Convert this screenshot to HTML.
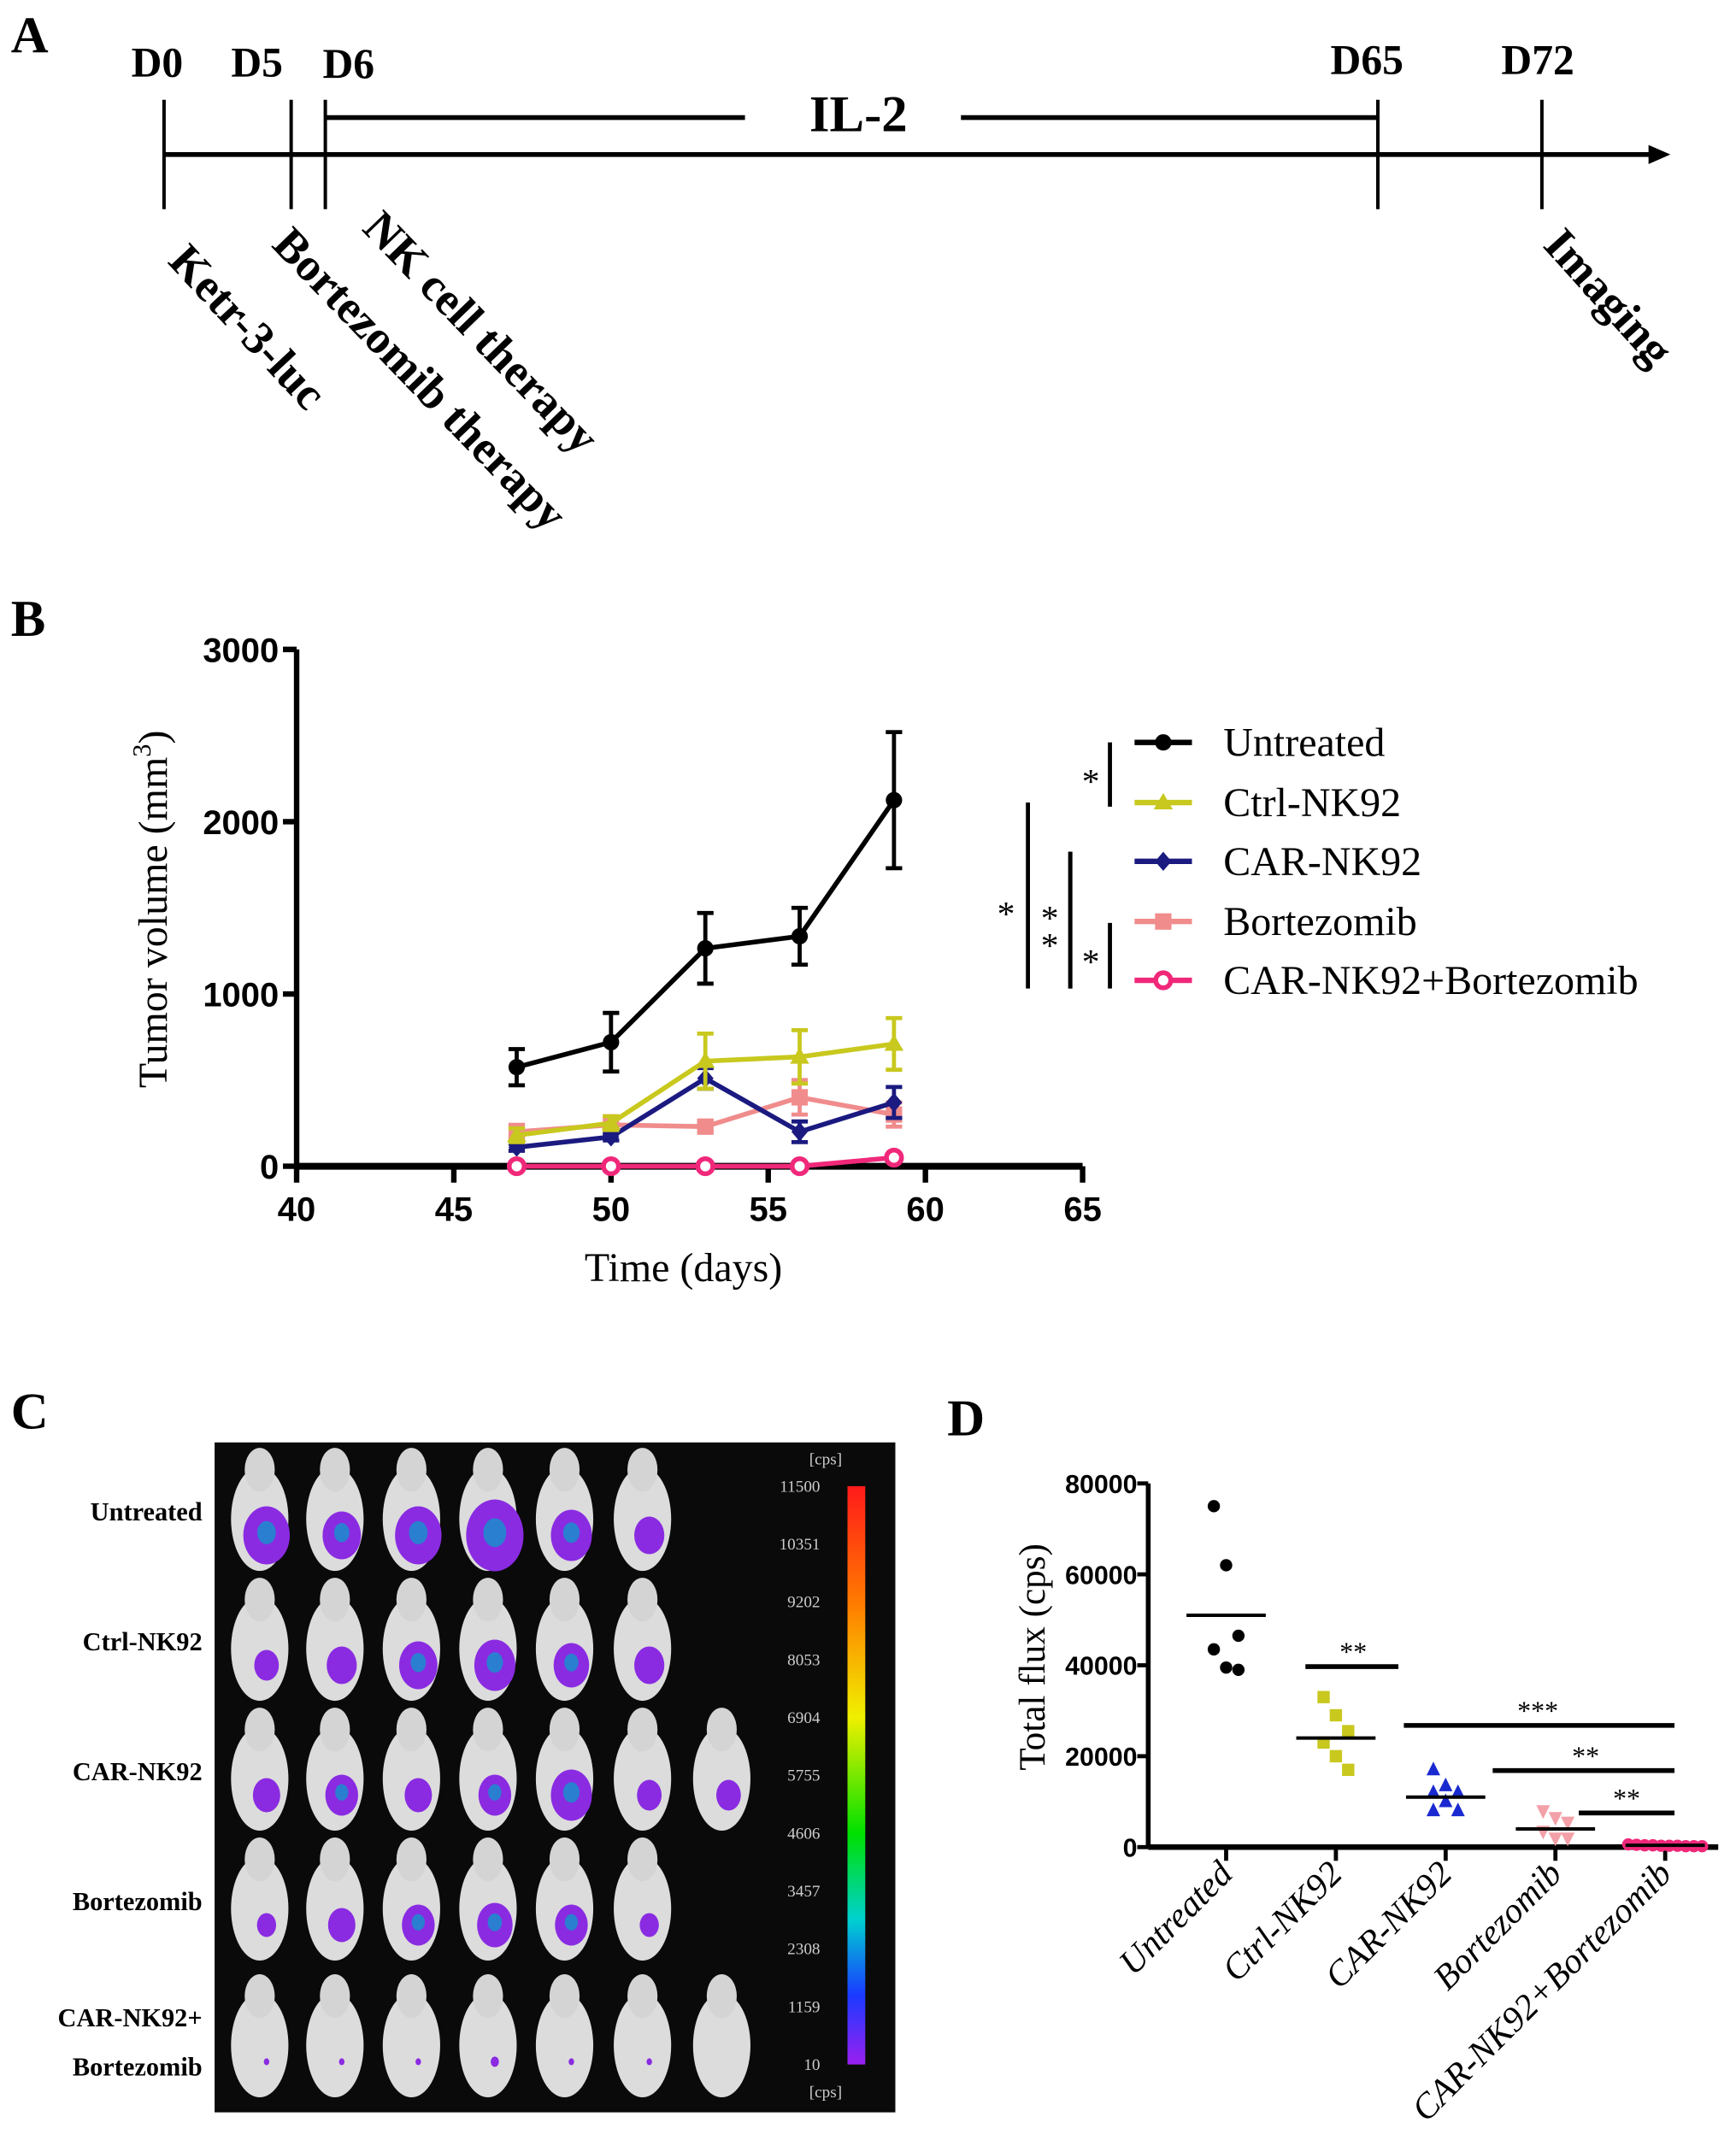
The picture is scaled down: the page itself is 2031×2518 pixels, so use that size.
<!DOCTYPE html>
<html><head><meta charset="utf-8"><style>
html,body{margin:0;padding:0;background:#fff}
svg{display:block}
.ser{font-family:"Liberation Serif",serif}
.san{font-family:"Liberation Sans",sans-serif}
</style></head><body>
<svg id="fig" width="2031" height="2518" viewBox="0 0 1270 1574" preserveAspectRatio="none" xmlns="http://www.w3.org/2000/svg">
<rect width="1270" height="1574" fill="#fff"/>
<!-- Panel A -->
<g class="ser" font-weight="bold">
<text x="8" y="38" font-size="38">A</text>
<line x1="120" y1="113" x2="1212" y2="113" stroke="#000" stroke-width="3.5"/>
<polygon points="1222,113 1206,106 1206,120" fill="#000"/>
<g stroke="#000" stroke-width="2.5">
<line x1="120" y1="73" x2="120" y2="153"/><line x1="213" y1="73" x2="213" y2="153"/><line x1="238" y1="73" x2="238" y2="153"/><line x1="1008" y1="73" x2="1008" y2="153"/><line x1="1128" y1="73" x2="1128" y2="153"/>
</g>
<line x1="238" y1="86" x2="545" y2="86" stroke="#000" stroke-width="3.5"/>
<line x1="703" y1="86" x2="1008" y2="86" stroke="#000" stroke-width="3.5"/>
<text x="628" y="96" font-size="38" text-anchor="middle">IL-2</text>
<g font-size="31" text-anchor="middle">
<text x="115" y="56">D0</text><text x="188" y="56">D5</text><text x="255" y="57">D6</text><text x="1000" y="54">D65</text><text x="1125" y="54">D72</text>
</g>
<g font-size="34" font-weight="bold">
<text transform="translate(122,192) rotate(47)">Ketr-3-luc</text>
<text transform="translate(198,180) rotate(46)">Bortezomib therapy</text>
<text transform="translate(264,168) rotate(46)">NK cell therapy</text>
<text transform="translate(1128,180) rotate(48)">Imaging</text>
</g>
</g>
<!-- Panel B -->
<g id="panelB">
<text x="8" y="465" font-size="38" font-weight="bold" class="ser">B</text>
</g>
<!-- Panel C -->
<g id="panelC">
<text x="8" y="1045" font-size="38" font-weight="bold" class="ser">C</text>
<rect x="157" y="1055" width="498" height="490" fill="#0a0a0a"/>
</g>
<!-- Panel D -->
<g id="panelD">
<text x="693" y="1050" font-size="38" font-weight="bold" class="ser">D</text>
</g>
</svg>
<script>
const NS="http://www.w3.org/2000/svg";
function mk(p,t,a){const e=document.createElementNS(NS,t);for(const k in a)e.setAttribute(k,a[k]);p.appendChild(e);return e;}

// ---------- Panel B data ----------
const days=[47,50,53,56,59];
const untreated=[575,720,1265,1335,2125];
const untreatedErr=[105,170,205,165,395];
const ctrl=[180,250,610,635,710];
const ctrlErr=[40,40,160,155,150];
const carnk=[110,170,510,200,370];
const carnkErr=[20,20,60,60,90];
const bort=[200,240,230,400,300];
const bortErr=[40,50,30,100,70];
const combo=[0,0,0,0,50];
const comboErr=[0,0,0,0,10];
const xTicksB=[40,45,50,55,60,65];
const yTicksB=[0,1000,2000,3000];
const seriesNames=["Untreated","Ctrl-NK92","CAR-NK92","Bortezomib","CAR-NK92+Bortezomib"];

const B=document.getElementById('panelB');
const bx=d=>217+(d-40)*23;
const by=v=>853-v*0.126;
let e;
e=mk(B,'line',{x1:217,y1:475,x2:217,y2:853,stroke:'#000','stroke-width':4});


e=mk(B,'line',{x1:217,y1:853,x2:792,y2:853,stroke:'#000','stroke-width':5});


yTicksB.forEach(v=>{mk(B,'line',{x1:207,y1:by(v),x2:217,y2:by(v),stroke:'#000','stroke-width':4});
 e=mk(B,'text',{x:204,y:by(v)+9,'font-size':25,'font-weight':'bold','text-anchor':'end',class:'san'});e.textContent=v;
 
 });
xTicksB.forEach(v=>{mk(B,'line',{x1:bx(v),y1:853,x2:bx(v),y2:865,stroke:'#000','stroke-width':4});
 e=mk(B,'text',{x:bx(v),y:893,'font-size':25,'font-weight':'bold','text-anchor':'middle',class:'san'});e.textContent=v;
 
 });
e=mk(B,'text',{x:500,y:937,'font-size':30,'text-anchor':'middle',class:'ser'});e.textContent='Time (days)';


e=mk(B,'text',{transform:'translate(122,665) rotate(-90)','font-size':30,'text-anchor':'middle',class:'ser'});
e.innerHTML='Tumor volume (mm<tspan dy="-12" font-size="19">3</tspan><tspan dy="12">)</tspan>';



const ser=[[untreated,untreatedErr,'#000','circle'],[ctrl,ctrlErr,'#c8c81e','tri'],[carnk,carnkErr,'#1a1a80','diamond'],[bort,bortErr,'#f08c8c','square'],[combo,comboErr,'#f0287a','ring']];
function marker(g,type,x,y,c){
 if(type==='circle')return mk(g,'circle',{cx:x,cy:y,r:6,fill:c});
 if(type==='tri')return mk(g,'polygon',{points:`${x},${y-7} ${x-7},${y+5} ${x+7},${y+5}`,fill:c});
 if(type==='diamond')return mk(g,'polygon',{points:`${x},${y-7} ${x-6},${y} ${x},${y+7} ${x+6},${y}`,fill:c});
 if(type==='square')return mk(g,'rect',{x:x-6,y:y-6,width:12,height:12,fill:c});
 return mk(g,'circle',{cx:x,cy:y,r:5.5,fill:'#fff',stroke:c,'stroke-width':3.5});
}
[3,2,1,4,0].forEach(i=>{
 const [vals,errs,c,type]=ser[i];
 const g=mk(B,'g',{});
 
 
 vals.forEach((v,j)=>{const x=bx(days[j]);if(errs[j]>0){
  mk(g,'line',{x1:x,y1:by(v+errs[j]),x2:x,y2:by(v-errs[j]),stroke:c,'stroke-width':3});
  mk(g,'line',{x1:x-6,y1:by(v+errs[j]),x2:x+6,y2:by(v+errs[j]),stroke:c,'stroke-width':3});
  mk(g,'line',{x1:x-6,y1:by(v-errs[j]),x2:x+6,y2:by(v-errs[j]),stroke:c,'stroke-width':3});}});
 mk(g,'polyline',{points:vals.map((v,j)=>bx(days[j])+','+by(v)).join(' '),fill:'none',stroke:c,'stroke-width':3.5});
 vals.forEach((v,j)=>{const m=marker(g,type,bx(days[j]),by(v),c);
  
  });
});
const legY=[543,587,630,674,717];
seriesNames.forEach((n,i)=>{
 const g=mk(B,'g',{});
 
 
 const c=ser[i][2];
 mk(g,'line',{x1:830,y1:legY[i],x2:872,y2:legY[i],stroke:c,'stroke-width':4});
 marker(g,ser[i][3],851,legY[i],c);
 const t=mk(g,'text',{x:895,y:legY[i]+10,'font-size':30,class:'ser'});t.textContent=n;
});
[[812,543,590,798,580,'*'],[752,587,723,736,677,'*'],[783,623,723,768,680,'*'],[783,623,723,768,700,'*'],[812,675,723,798,712,'*']].forEach(s=>{
 mk(B,'line',{x1:s[0],y1:s[1],x2:s[0],y2:s[2],stroke:'#000','stroke-width':3});
 const t=mk(B,'text',{x:s[3],y:s[4],'font-size':26,'text-anchor':'middle',class:'ser'});t.textContent=s[5];
 
 
});

// ---------- Panel C ----------
const C=document.getElementById('panelC');
const rowLabels=[['Untreated'],['Ctrl-NK92'],['CAR-NK92'],['Bortezomib'],['CAR-NK92+','Bortezomib']];
const rowY=[1105,1200,1295,1390,1490];
const colX=[190,245,301,357,413,470,528];
const miceCount=[6,6,7,6,7];
const signal=[[17,14,17,21,15,11],[9,11,14,15,13,11],[10,12,10,12,15,9,9],[7,10,12,13,12,7],[2,2,2,3,2,2,0]];
rowLabels.forEach((l,i)=>{
 l.forEach((s,k)=>{const t=mk(C,'text',{x:148,y:(l.length>1?1482+k*36:rowY[i]+7),'font-size':19,'font-weight':'bold','text-anchor':'end',class:'ser'});t.textContent=s;
  
  });
 for(let j=0;j<miceCount[i];j++){
  const x=colX[j],y=rowY[i];
  const g=mk(C,'g',{});
  
  
  mk(g,'ellipse',{cx:x,cy:y+6,rx:21,ry:38,fill:'#dcdcdc'});
  mk(g,'ellipse',{cx:x,cy:y-30,rx:11,ry:16,fill:'#d4d4d4'});
  const r=signal[i][j];
  if(r>0){mk(g,'ellipse',{cx:x+5,cy:y+18,rx:r,ry:r*1.25,fill:'#8a2be2'});
   if(r>11)mk(g,'ellipse',{cx:x+5,cy:y+16,rx:r*0.4,ry:r*0.5,fill:'#2a7fd0'});}
 }
});
const defs=mk(document.getElementById('fig'),'defs',{});
const lg=mk(defs,'linearGradient',{id:'cb',x1:0,y1:0,x2:0,y2:1});
[['0','#ff1a1a'],['0.2','#ff7a00'],['0.4','#f0f000'],['0.6','#00e000'],['0.75','#00d0d0'],['0.88','#1a3aff'],['1','#9a20f0']].forEach(s=>mk(lg,'stop',{offset:s[0],'stop-color':s[1]}));
e=mk(C,'rect',{x:620,y:1087,width:13,height:423,fill:'url(#cb)'});


const cbLabels=['11500','10351','9202','8053','6904','5755','4606','3457','2308','1159','10'];
cbLabels.forEach((s,i)=>{const t=mk(C,'text',{x:600,y:1091+i*42.3,'font-size':12,fill:'#ccc','text-anchor':'end',class:'ser'});t.textContent=s;
 
 });
[1071,1534].forEach(y=>{const t=mk(C,'text',{x:604,y:y,'font-size':12,fill:'#ccc','text-anchor':'middle',class:'ser'});t.textContent='[cps]';});

// ---------- Panel D data ----------
const cats=["Untreated","Ctrl-NK92","CAR-NK92","Bortezomib","CAR-NK92+Bortezomib"];
const fluxUntreated=[75000,62000,46500,43500,39500,39000];
const fluxCtrl=[33000,29000,25500,23000,20000,17000];
const fluxCar=[17000,13500,12000,12000,10000,8000,8000];
const fluxBort=[8000,6500,5500,3500,2000,2000];
const fluxCombo=[600,500,400,400,300,300,300,200,200,200];
const fluxMeans=[51000,24000,11000,4000,400];
const yTicksD=[0,20000,40000,60000,80000];
const D=document.getElementById('panelD');
const dx=i=>897+i*80.3;
const dy=v=>1351-v*0.003325;
e=mk(D,'line',{x1:840,y1:1085,x2:840,y2:1351,stroke:'#000','stroke-width':3.5});


e=mk(D,'line',{x1:840,y1:1351,x2:1257,y2:1351,stroke:'#000','stroke-width':4});


yTicksD.forEach(v=>{mk(D,'line',{x1:832,y1:dy(v),x2:840,y2:dy(v),stroke:'#000','stroke-width':3});
 const t=mk(D,'text',{x:832,y:dy(v)+7,'font-size':19,'font-weight':'bold','text-anchor':'end',class:'san'});t.textContent=v;
 
 });
e=mk(D,'text',{transform:'translate(764,1212) rotate(-90)','font-size':27,'text-anchor':'middle',class:'ser'});e.textContent='Total flux (cps)';


cats.forEach((c,i)=>{mk(D,'line',{x1:dx(i),y1:1351,x2:dx(i),y2:1361,stroke:'#000','stroke-width':3});
 const t=mk(D,'text',{transform:`translate(${dx(i)+6},${1372}) rotate(-45)`,'font-size':26,'text-anchor':'end','font-style':'italic',class:'ser'});t.textContent=c;
 
 });
const dSets=[[fluxUntreated,'#000','circle'],[fluxCtrl,'#c8c81e','square'],[fluxCar,'#1a2ad0','tri'],[fluxBort,'#f4a0a8','tridown'],[fluxCombo,'#f0287a','circle']];
dSets.forEach((s,i)=>{
 const [vals,c,type]=s;
 const n=vals.length;
 vals.forEach((v,j)=>{
  const off=i===4?(j-(n-1)/2)*6:((j%3)-1)*9;
  const x=dx(i)+off,y=dy(v);let m;
  if(type==='circle')m=mk(D,'circle',{cx:x,cy:y,r:4.5,fill:c});
  else if(type==='square')m=mk(D,'rect',{x:x-4.5,y:y-4.5,width:9,height:9,fill:c});
  else if(type==='tri')m=mk(D,'polygon',{points:`${x},${y-6} ${x-5},${y+4} ${x+5},${y+4}`,fill:c});
  else m=mk(D,'polygon',{points:`${x},${y+6} ${x-5},${y-4} ${x+5},${y-4}`,fill:c});
  
  
 });
 const ml=mk(D,'line',{x1:dx(i)-29,y1:dy(fluxMeans[i]),x2:dx(i)+29,y2:dy(fluxMeans[i]),stroke:'#000','stroke-width':2.5});
 
 
});
[[955,1023,1219,990,'**'],[1027,1225,1262,1125,'***'],[1092,1225,1295,1160,'**'],[1155,1225,1326,1190,'**']].forEach(s=>{
 mk(D,'line',{x1:s[0],y1:s[2],x2:s[1],y2:s[2],stroke:'#000','stroke-width':3.5});
 const t=mk(D,'text',{x:s[3],y:s[2]-4,'font-size':20,'text-anchor':'middle',class:'ser'});t.textContent=s[4];
 
 
});
</script>
</body></html>
